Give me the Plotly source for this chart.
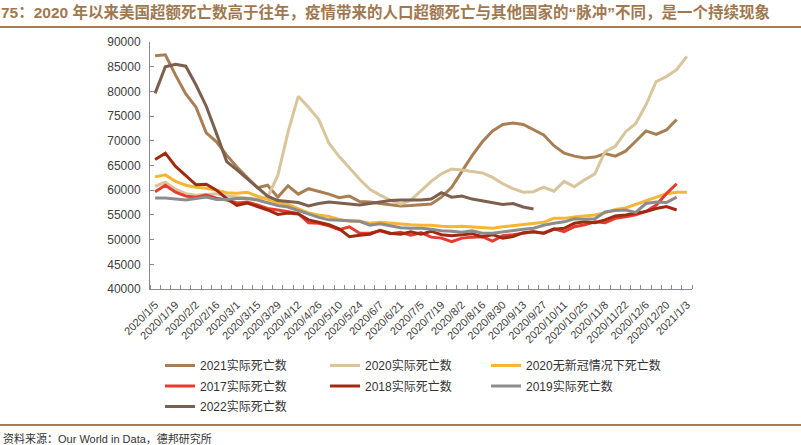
import plotly.graph_objects as go

# ---------------- data ----------------
dates = [
    "2020/1/5", "2020/1/12", "2020/1/19", "2020/1/26", "2020/2/2", "2020/2/9", "2020/2/16", "2020/2/23",
    "2020/3/1", "2020/3/8", "2020/3/15", "2020/3/22", "2020/3/29", "2020/4/5", "2020/4/12", "2020/4/19",
    "2020/4/26", "2020/5/3", "2020/5/10", "2020/5/17", "2020/5/24", "2020/5/31", "2020/6/7", "2020/6/14",
    "2020/6/21", "2020/6/28", "2020/7/5", "2020/7/12", "2020/7/19", "2020/7/26", "2020/8/2", "2020/8/9",
    "2020/8/16", "2020/8/23", "2020/8/30", "2020/9/6", "2020/9/13", "2020/9/20", "2020/9/27", "2020/10/4",
    "2020/10/11", "2020/10/18", "2020/10/25", "2020/11/1", "2020/11/8", "2020/11/15", "2020/11/22",
    "2020/11/29", "2020/12/6", "2020/12/13", "2020/12/20", "2020/12/27", "2021/1/3",
]

deaths_2021 = [87200, 87400, 83300, 79500, 76800, 71600, 69800, 67100, 64700, 62600, 60500, 61000, 58600,
               60900, 59200, 60300, 59800, 59200, 58500, 58800, 57700, 57600, 57300, 57000, 56800, 56900,
               57100, 57200, 58600, 60600, 63800, 67000, 69800, 72000, 73300, 73600, 73300, 72300, 71200,
               69000, 67500, 66900, 66500, 66700, 67400, 66900, 67900, 69900, 72000, 71300, 72200, 74300, None]

deaths_2020 = [60800, 61600, 60200, 59300, 59000, 59100, 59300, 58900, 58600, 58400, 58200, 58600, 63000,
               71800, 79000, 76800, 74300, 69500, 66800, 64500, 62200, 60200, 59000, 58000, 57200, 58000,
               60000, 61800, 63300, 64300, 64100, 63800, 63500, 62600, 61300, 60300, 59600, 59700, 60600,
               59800, 61800, 60700, 62100, 63300, 67800, 68900, 71800, 73500, 77300, 82000, 83000, 84400, 87100]

deaths_2020_no_covid = [62700, 63100, 61800, 61000, 60600, 60400, 60000, 59500, 59400, 59600, 58800, 58100,
                        57500, 57100, 56300, 55400, 55000, 54700, 54100, 53700, 53700, 53300, 53500, 53300,
                        53100, 53000, 52900, 52900, 52700, 52600, 52700, 52600, 52400, 52300, 52600, 52800,
                        53000, 53200, 53500, 54300, 54300, 54600, 54800, 55000, 55400, 56100, 56400, 57100,
                        57800, 58500, 59300, 59600, 59600]

deaths_2017 = [59700, 61000, 59600, 58800, 58600, 59000, 58400, 58000, 57400, 57600, 57000, 56300, 56000,
               55600, 55300, 53400, 53300, 52800, 52000, 52600, 51300, 51300, 51800, 51200, 51500, 50900,
               51400, 50500, 50300, 49600, 50300, 50500, 50600, 49700, 50800, 51000, 51300, 51600, 51300,
               52200, 51600, 52600, 53000, 53600, 53400, 54300, 54600, 55000, 55700, 57000, 59300, 61300, None]

deaths_2018 = [66200, 67500, 64800, 63000, 61100, 61200, 60000, 58300, 56900, 57400, 56700, 56000, 55100,
               55400, 55200, 54000, 53500, 53000, 52200, 50600, 50900, 51100, 51900, 51300, 51100, 51600,
               51100, 51700, 51000, 50800, 51000, 51200, 50600, 51000, 50300, 50600, 51400, 51600, 51300,
               52100, 52300, 53300, 53600, 53400, 54000, 54800, 55000, 55300, 55700, 56300, 56700, 56000, None]

deaths_2019 = [58400, 58400, 58200, 58000, 58300, 58600, 58100, 58100, 58300, 58300, 58000, 57500, 56900,
               56600, 55900, 55200, 54500, 54000, 53900, 53700, 53700, 52900, 53200, 52800, 52400, 52300,
               52300, 52100, 51800, 51700, 51500, 51800, 51300, 51300, 51600, 51900, 52100, 52300, 52900,
               53300, 53600, 54200, 54100, 54200, 55600, 55900, 56000, 55500, 57300, 57600, 57500, 58600, None]

deaths_2022 = [79600, 85000, 85500, 85100, 81300, 77000, 71500, 65800, 64100, 62300, 60500, 58800, 57900,
               57700, 57500, 56800, 57300, 57600, 57400, 57300, 57000, 57300, 57600, 57900, 58000, 58000,
               58000, 58200, 59500, 58600, 58800, 58200, 57800, 57400, 57100, 57300, 56600, 56200] + [None] * 15

series_names = ["2021实际死亡数", "2020实际死亡数", "2020无新冠情况下死亡数",
                "2017实际死亡数", "2018实际死亡数", "2019实际死亡数", "2022实际死亡数"]
series_values = [deaths_2021, deaths_2020, deaths_2020_no_covid,
                 deaths_2017, deaths_2018, deaths_2019, deaths_2022]

tick_labels = dates[::2]

# ---------------- styles ----------------
series_colors = ["#A87E53", "#D9C59C", "#F6B632", "#E63B2E", "#A02A10", "#8C8C8C", "#7C5F4F"]
legend_columns = ["legend", "legend2", "legend3", "legend", "legend2", "legend3", "legend"]
accent = "#A57C55"
latin_cjk = "Liberation Sans, Arial, Noto Sans CJK SC"

W, H = 801, 445
L, R, T, B = 150, 109, 42, 156
pw, ph = W - L - R, H - T - B


def px_x(p):
    return (p - L) / pw


def px_y(p):
    return (H - B - p) / ph


positions = list(range(len(dates)))

fig = go.Figure()
for k, (name, vals, color, lg) in enumerate(zip(series_names, series_values, series_colors, legend_columns)):
    fig.add_trace(go.Scatter(
        x=positions, y=vals, mode="lines", name=name, legend=lg, legendgroup=f"g{k}",
        line=dict(color=color, width=3), connectgaps=False, hoverinfo="skip",
    ))

legend_common = dict(
    orientation="v", xanchor="left", yanchor="top", y=px_y(351),
    traceorder="grouped", tracegroupgap=1.5,
    font=dict(size=12, color="#333333", family=latin_cjk),
    bgcolor="rgba(0,0,0,0)", itemclick=False, itemdoubleclick=False,
)

fig.update_layout(
    width=W, height=H,
    margin=dict(l=L, r=R, t=T, b=B, autoexpand=False),
    paper_bgcolor="white", plot_bgcolor="white",
    font=dict(family=latin_cjk, color="#404040"),
    showlegend=True,
    title=dict(
        text="<b>75：2020 年以来美国超额死亡数高于往年，疫情带来的人口超额死亡与其他国家的“脉冲”不同，是一个持续现象</b>",
        x=1 / W, xref="container", xanchor="left",
        y=1 - 13 / H, yref="container", yanchor="middle",
        font=dict(size=15.5, color="#A07850", family=latin_cjk),
    ),
    legend=dict(x=px_x(160), **legend_common),
    legend2=dict(x=px_x(325), **legend_common),
    legend3=dict(x=px_x(486), **legend_common),
    xaxis=dict(
        range=[-0.5, len(dates) - 0.5], tickmode="array",
        tickvals=positions[::2], ticktext=tick_labels,
        tickangle=-45, ticks="", showgrid=False, zeroline=False,
        showline=True, linecolor="#8C8C8C", linewidth=1,
        tickfont=dict(size=11, color="#404040", family=latin_cjk),
        ticklabelstandoff=4, automargin=False,
        minor=dict(tick0=-0.5, dtick=1, ticks="inside", ticklen=4,
                   tickcolor="#8C8C8C", tickwidth=1, showgrid=False),
    ),
    yaxis=dict(
        range=[40000, 90000], dtick=5000, tickformat="d",
        ticks="inside", ticklen=4, tickcolor="#8C8C8C",
        showgrid=False, zeroline=False,
        showline=True, linecolor="#8C8C8C", linewidth=1,
        tickfont=dict(size=12, color="#404040", family=latin_cjk),
        ticklabelstandoff=6, automargin=False,
    ),
    shapes=[
        dict(type="line", xref="paper", yref="paper", x0=px_x(0), x1=px_x(W),
             y0=px_y(27), y1=px_y(27), line=dict(color=accent, width=2)),
        dict(type="line", xref="paper", yref="paper", x0=px_x(0), x1=px_x(W),
             y0=px_y(425), y1=px_y(425), line=dict(color=accent, width=2)),
    ],
    annotations=[
        dict(text="资料来源：Our World in Data，德邦研究所", xref="paper", yref="paper",
             x=px_x(1), y=px_y(438), xanchor="left", yanchor="middle", showarrow=False,
             font=dict(size=11, color="#333333", family=latin_cjk)),
    ],
)

fig.write_html("out.html", config={"displayModeBar": False},
               post_script="document.body.style.margin='0px';")
